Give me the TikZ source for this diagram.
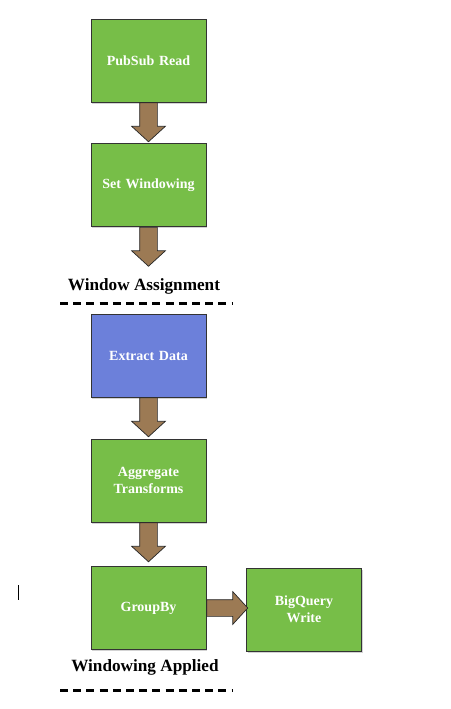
\documentclass[tikz,border=0pt]{standalone}
\usepackage{fontspec}
\setmainfont{Liberation Serif}
\usetikzlibrary{shapes.arrows,shadows}

\definecolor{stepgreen}{RGB}{119,190,72}
\definecolor{stepblue}{RGB}{108,128,218}
\definecolor{flowbrown}{RGB}{156,122,84}

\tikzset{
  stepbox/.style={draw=black!80, line width=0.8pt, fill=stepgreen, minimum width=115, minimum height=83,
    text width=105, align=center, text=white, font=\fontsize{14}{17}\selectfont\bfseries,
    drop shadow={shadow xshift=1pt, shadow yshift=-1.5pt, opacity=0.35}},
  flow/.style={single arrow, draw=black!85, line width=0.7pt, fill=flowbrown, inner xsep=0pt, inner ysep=8.5pt,
    minimum width=33, single arrow head extend=8, single arrow tip angle=95,
    single arrow head indent=0pt, minimum height=39, anchor=tail},
  phase/.style={font=\fontsize{17.2}{19}\selectfont\bfseries, inner sep=0pt},
  cut/.style={line width=3pt, dash pattern=on 8pt off 5.2pt}
}

\begin{document}
\begin{tikzpicture}[x=1pt,y=-1pt]
\useasboundingbox (0,0) rectangle (450,709);

\node[stepbox](pubsub) at (148.5,60.5) {PubSub Read};
\node[stepbox](setwin) at (148.5,185) {Set Windowing};
\node[phase](winassign) at (144,286) {Window Assignment};
\coordinate(cutone) at (146,303);

\node[stepbox, fill=stepblue](extract) at (148.5,355.5) {Extract Data};
\node[stepbox](aggregate) at (148.5,480.5) {Aggregate\\Transforms};
\node[stepbox](groupby) at (148.5,608) {GroupBy};
\node[stepbox](bqwrite) at (304,609.5) {BigQuery\\Write};
\node[phase](winapplied) at (145,667) {Windowing Applied};
\coordinate(cuttwo) at (146,690);

\path (pubsub.south) -- (setwin.north) node[flow, pos=0, rotate=-90] {};
\path (setwin.south) -- (winassign.north) node[flow, pos=0, rotate=-90] {};
\path (extract.south) -- (aggregate.north) node[flow, pos=0, rotate=-90] {};
\path (aggregate.south) -- (groupby.north) node[flow, pos=0, rotate=-90] {};
\path (groupby.east) -- (groupby.east -| bqwrite.west) node[flow, pos=0, inner ysep=8pt, minimum width=32, minimum height=41] {};

\draw[cut] ([xshift=-86]cutone) -- ([xshift=86]cutone);
\draw[cut] ([xshift=-86]cuttwo) -- ([xshift=86]cuttwo);

% stray cursor mark
\draw[line width=0.8pt] (18,585) -- (18,600);

\end{tikzpicture}
\end{document}
